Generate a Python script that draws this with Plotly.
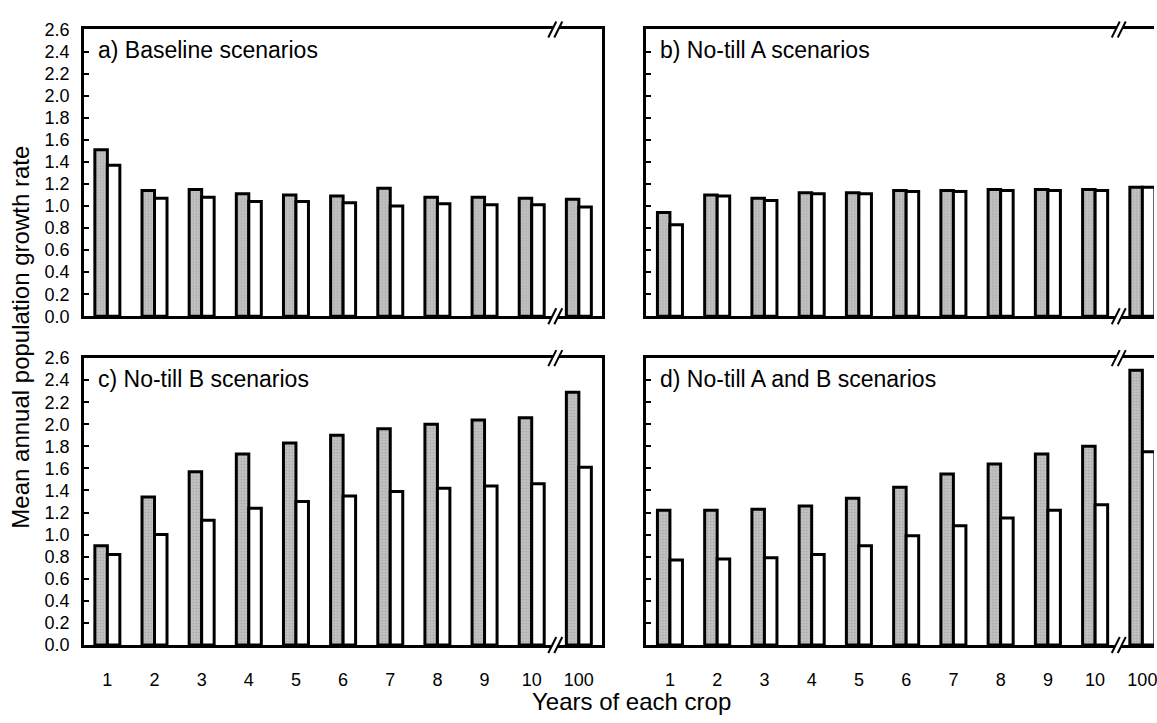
import plotly.graph_objects as go

categories = ["1", "2", "3", "4", "5", "6", "7", "8", "9", "10", "100"]

a_gray = [1.51, 1.14, 1.15, 1.11, 1.10, 1.09, 1.16, 1.08, 1.08, 1.07, 1.06]
a_white = [1.37, 1.07, 1.08, 1.04, 1.04, 1.03, 1.00, 1.02, 1.01, 1.01, 0.99]
b_gray = [0.94, 1.10, 1.07, 1.12, 1.12, 1.14, 1.14, 1.15, 1.15, 1.15, 1.17]
b_white = [0.83, 1.09, 1.05, 1.11, 1.11, 1.13, 1.13, 1.14, 1.14, 1.14, 1.17]
c_gray = [0.90, 1.34, 1.57, 1.73, 1.83, 1.90, 1.96, 2.00, 2.04, 2.06, 2.29]
c_white = [0.82, 1.00, 1.13, 1.24, 1.30, 1.35, 1.39, 1.42, 1.44, 1.46, 1.61]
d_gray = [1.22, 1.22, 1.23, 1.26, 1.33, 1.43, 1.55, 1.64, 1.73, 1.80, 2.49]
d_white = [0.77, 0.78, 0.79, 0.82, 0.90, 0.99, 1.08, 1.15, 1.22, 1.27, 1.75]

panel_labels = ["a) Baseline scenarios", "b) No-till A scenarios",
                "c) No-till B scenarios", "d) No-till A and B scenarios"]
y_ticks = [round(0.2 * i, 1) for i in range(14)]
y_tick_text = [f"{v:.1f}" for v in y_ticks]

W, H = 1157, 723
FONT = "Liberation Sans, Arial, Helvetica, sans-serif"


def px_x(v):
    return v / W


def px_y(v):
    return 1 - v / H


fig = go.Figure()

panels = [(a_gray, a_white, "x", "y"), (b_gray, b_white, "x2", "y2"),
          (c_gray, c_white, "x3", "y3"), (d_gray, d_white, "x4", "y4")]

for g, w, xa, ya in panels:
    fig.add_trace(go.Bar(
        x=categories, y=g, xaxis=xa, yaxis=ya, showlegend=False,
        marker=dict(color="#b4b4b4", line=dict(color="black", width=3),
                    pattern=dict(shape=".", size=3, solidity=0.3,
                                 fgcolor="#8a8a8a", bgcolor="#c4c4c4")),
    ))
    fig.add_trace(go.Bar(
        x=categories, y=w, xaxis=xa, yaxis=ya, showlegend=False,
        marker=dict(color="white", line=dict(color="black", width=3)),
    ))

# pixel geometry of the panels (window pixels)
left_x = (px_x(84), px_x(604))
right_x = (px_x(648), 1.0)
cat_px = (604 - 84) / 11.0
right_range_end = -0.5 + (1156 - 648) / cat_px
top_y = (px_y(315), px_y(20))
bot_y = (px_y(653), px_y(358))

axis_common = dict(showgrid=False, zeroline=False, linecolor="black",
                   linewidth=2.5, showline=True)

layout = dict(
    width=W, height=H, margin=dict(l=0, r=0, t=0, b=0),
    paper_bgcolor="white", plot_bgcolor="white",
    barmode="group", bargap=0.47, bargroupgap=0.0,
    font=dict(family=FONT, color="black", size=18),
)

xdefs = {
    "xaxis": (left_x, "y", [-0.5, 10.5], False),
    "xaxis2": (right_x, "y2", [-0.5, right_range_end], False),
    "xaxis3": (left_x, "y3", [-0.5, 10.5], True),
    "xaxis4": (right_x, "y4", [-0.5, right_range_end], True),
}
for name, (dom, anchor, rng, labels) in xdefs.items():
    layout[name] = dict(axis_common, domain=list(dom), anchor=anchor,
                        type="category", range=rng, mirror=True, ticks="",
                        showticklabels=labels, ticklabelstandoff=17,
                        tickfont=dict(size=18, family=FONT))

ydefs = {
    "yaxis": (top_y, "x", True, True),
    "yaxis2": (top_y, "x2", False, False),
    "yaxis3": (bot_y, "x3", True, True),
    "yaxis4": (bot_y, "x4", False, False),
}
for name, (dom, anchor, labels, mirror) in ydefs.items():
    layout[name] = dict(axis_common, domain=list(dom), anchor=anchor,
                        range=[0, 2.6], mirror=mirror, ticks="inside",
                        ticklen=5, tickwidth=2, tickcolor="black",
                        tickvals=y_ticks, ticktext=y_tick_text,
                        showticklabels=labels, ticklabelstandoff=8,
                        tickfont=dict(size=18, family=FONT))

fig.update_layout(**layout)

# panel labels
for (g, w, xa, ya), label in zip(panels, panel_labels):
    fig.add_annotation(text=label, xref=f"{xa} domain", yref=f"{ya} domain",
                       x=0, y=1, xanchor="left", yanchor="top",
                       xshift=12, yshift=-6, showarrow=False,
                       font=dict(size=23, family=FONT, color="black"))

# axis titles
fig.add_annotation(text="Years of each crop", xref="paper", yref="paper",
                   x=px_x(633), y=px_y(711), xanchor="center", yanchor="middle",
                   showarrow=False, font=dict(size=24, family=FONT, color="black"))
fig.add_annotation(text="Mean annual population growth rate", xref="paper",
                   yref="paper", x=px_x(21), y=px_y(336), xanchor="center",
                   yanchor="middle", textangle=-90, showarrow=False,
                   font=dict(size=24, family=FONT, color="black"))

# axis break marks "//" between 10 and 100
for xa, ya in [("x", "y"), ("x2", "y2"), ("x3", "y3"), ("x4", "y4")]:
    for yv in (0, 1):
        base = dict(xref=xa, yref=f"{ya} domain", xsizemode="pixel",
                    ysizemode="pixel", xanchor=9.5, yanchor=yv)
        fig.add_shape(type="path", path="M -7,-8 L 1,8 L 7,8 L -1,-8 Z",
                      fillcolor="white", line=dict(width=0), layer="above",
                      **base)
        fig.add_shape(type="line", x0=-7, y0=-8, x1=1, y1=8,
                      line=dict(color="black", width=2), layer="above", **base)
        fig.add_shape(type="line", x0=-1, y0=-8, x1=7, y1=8,
                      line=dict(color="black", width=2), layer="above", **base)

fig.write_html(
    "out.html",
    config={"displayModeBar": False},
    post_script="document.body.style.margin='0px';"
                "document.body.style.overflow='hidden';",
)
